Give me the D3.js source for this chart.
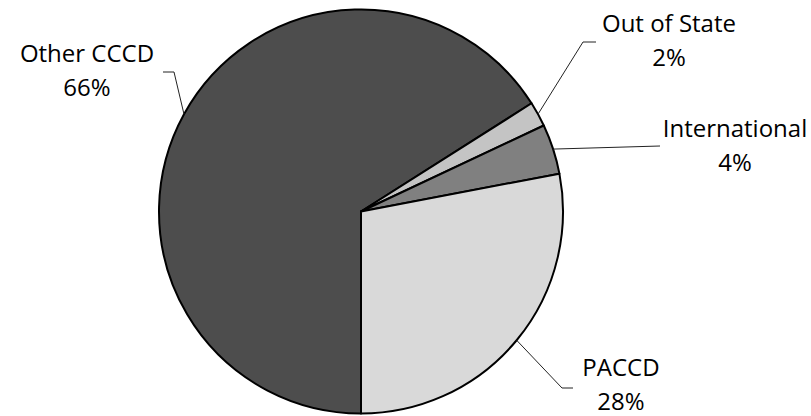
<!DOCTYPE html>
<html>
<head>
<meta charset="utf-8">
<script src="https://cdn.jsdelivr.net/npm/d3@7"></script>
<style>
  html, body { margin: 0; padding: 0; background: #fff; }
  svg text { font-family: "Open Sans", sans-serif; font-size: 24px; fill: #000; }
</style>
</head>
<body>
<svg id="chart" width="811" height="416"></svg>
<script>
// data, in drawing order (clockwise from 6 o'clock)
const categories = ["Other CCCD", "Out of State", "International", "PACCD"];
const shares = [66, 2, 4, 28];
const sliceColors = ["#4d4d4d", "#c4c4c4", "#808080", "#d9d9d9"];

// label placement (hand tuned like the original): text centre x, first baseline y,
// leader elbow and leader end
const labelLayout = {
    "Other CCCD":    { x: 87,  y: 62,  elbow: [174, 72],  end: [163, 72] },
    "Out of State":  { x: 669, y: 32,  elbow: [583, 42],  end: [596, 42] },
    "International": { x: 735, y: 137, elbow: null,       end: [660, 146] },
    "PACCD":         { x: 621, y: 376, elbow: [562, 388], end: [573, 388] }
};
const lineGap = 34;

const cx = 361, cy = 211.5, radius = 202;

const svg = d3.select('#chart');
const g = svg.append('g').attr('transform', `translate(${cx},${cy})`);

const pie = d3.pie()
    .sort(null)
    .value(d => d.value)
    .startAngle(Math.PI)
    .endAngle(Math.PI * 3);

const arc = d3.arc().innerRadius(0).outerRadius(radius);

const rows = categories.map((c, i) => ({ name: c, value: shares[i], color: sliceColors[i] }));
const arcs = pie(rows);

g.selectAll('path.slice')
    .data(arcs)
    .enter().append('path')
    .attr('class', 'slice')
    .attr('d', arc)
    .attr('fill', d => d.data.color)
    .attr('stroke', '#000')
    .attr('stroke-width', 2)
    .attr('stroke-linejoin', 'round');

// leader lines start on the rim at the middle of each slice
const leaders = svg.append('g');
arcs.forEach(function(a) {
    let mid = (a.startAngle + a.endAngle) / 2;
    let sx = cx + radius * Math.sin(mid);
    let sy = cy - radius * Math.cos(mid);
    let lay = labelLayout[a.data.name];
    let pts = [[sx, sy]];
    if (lay.elbow) pts.push(lay.elbow);
    pts.push(lay.end);
    leaders.append('path')
        .attr('d', d3.line()(pts))
        .attr('fill', 'none')
        .attr('stroke', '#222')
        .attr('stroke-width', 1);
});

const labels = svg.append('g');
arcs.forEach(function(a) {
    let lay = labelLayout[a.data.name];
    let t = labels.append('text').attr('text-anchor', 'middle');
    t.append('tspan').attr('x', lay.x).attr('y', lay.y).text(a.data.name);
    t.append('tspan').attr('x', lay.x).attr('y', lay.y + lineGap).text(a.data.value + '%');
});
</script>
</body>
</html>
